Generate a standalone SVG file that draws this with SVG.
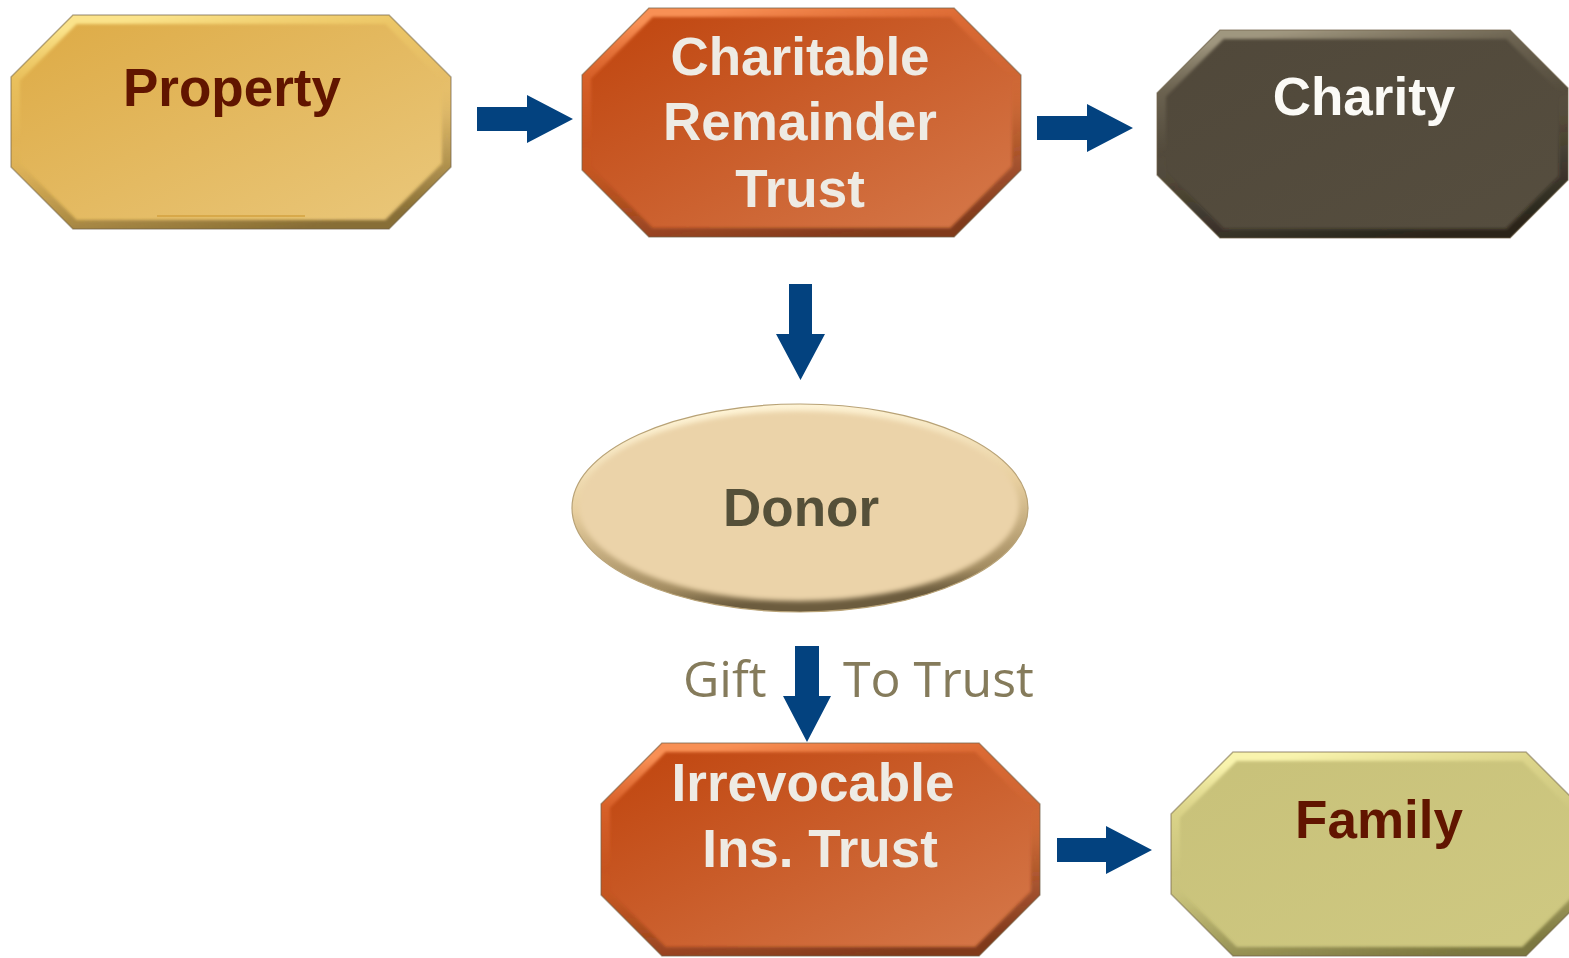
<svg xmlns="http://www.w3.org/2000/svg" width="1569" height="958" viewBox="0 0 1569 958">
  <style>
    .lbl { font-family: "Liberation Sans", Arial, sans-serif; font-weight: bold; font-size: 53px; text-anchor: middle; }
    .dark { fill: #611500; }
    .light { fill: #eeebe4; }
    .white { fill: #fbfaf6; }
    .olive { fill: #555039; }
    .note { font-family: "Open Sans", "Liberation Sans", sans-serif; font-size: 50px; fill: #857b5b; }
    .rim { fill: none; stroke-width: 18; stroke-linejoin: miter; }
    .edge { fill: none; stroke: #6f6248; stroke-opacity: 0.5; stroke-width: 1.5; }
    .arrow { fill: #03427f; }
  </style>
  <defs>
    <!-- face fills -->
    <linearGradient id="gold" x1="0" y1="0" x2="1" y2="1">
      <stop offset="0" stop-color="#ddaa44"/>
      <stop offset="1" stop-color="#eac87c"/>
    </linearGradient>
    <linearGradient id="rust" x1="0" y1="0" x2="1" y2="1">
      <stop offset="0" stop-color="#bf430c"/>
      <stop offset="1" stop-color="#d67a4c"/>
    </linearGradient>
    <linearGradient id="umber" x1="0" y1="0" x2="1" y2="1">
      <stop offset="0" stop-color="#50483a"/>
      <stop offset="1" stop-color="#564e3f"/>
    </linearGradient>
    <linearGradient id="sage" x1="0" y1="0" x2="1" y2="1">
      <stop offset="0" stop-color="#c8c179"/>
      <stop offset="1" stop-color="#cfc982"/>
    </linearGradient>
    <!-- bevel rims: lit from the top-left, shaded to the bottom-right -->
    <linearGradient id="rim-gold" x1="0.35" y1="0" x2="0.65" y2="1">
      <stop offset="0" stop-color="#fce68e" stop-opacity="0.95"/>
      <stop offset="0.18" stop-color="#f6d670" stop-opacity="0.45"/>
      <stop offset="0.45" stop-color="#f6d670" stop-opacity="0"/>
      <stop offset="0.6" stop-color="#7a6128" stop-opacity="0.1"/>
      <stop offset="1" stop-color="#6e5724" stop-opacity="0.8"/>
    </linearGradient>
    <linearGradient id="rim-rust" x1="0.35" y1="0" x2="0.65" y2="1">
      <stop offset="0" stop-color="#fb9358" stop-opacity="0.95"/>
      <stop offset="0.18" stop-color="#f07a40" stop-opacity="0.45"/>
      <stop offset="0.45" stop-color="#f07a40" stop-opacity="0"/>
      <stop offset="0.6" stop-color="#6e2c10" stop-opacity="0.1"/>
      <stop offset="1" stop-color="#6a2a10" stop-opacity="0.8"/>
    </linearGradient>
    <linearGradient id="rim-umber" x1="0.35" y1="0" x2="0.65" y2="1">
      <stop offset="0" stop-color="#a39a82" stop-opacity="0.95"/>
      <stop offset="0.18" stop-color="#8a8069" stop-opacity="0.45"/>
      <stop offset="0.45" stop-color="#8a8069" stop-opacity="0"/>
      <stop offset="0.6" stop-color="#221e16" stop-opacity="0.1"/>
      <stop offset="1" stop-color="#1e1a12" stop-opacity="0.8"/>
    </linearGradient>
    <linearGradient id="rim-sage" x1="0.35" y1="0" x2="0.65" y2="1">
      <stop offset="0" stop-color="#fbf6b0" stop-opacity="0.95"/>
      <stop offset="0.18" stop-color="#efe79a" stop-opacity="0.45"/>
      <stop offset="0.45" stop-color="#efe79a" stop-opacity="0"/>
      <stop offset="0.6" stop-color="#6e6a34" stop-opacity="0.1"/>
      <stop offset="1" stop-color="#66622e" stop-opacity="0.8"/>
    </linearGradient>
    <linearGradient id="donorRim" x1="0" y1="0" x2="0.15" y2="1">
      <stop offset="0" stop-color="#e9d2a4"/>
      <stop offset="0.06" stop-color="#fff5d8"/>
      <stop offset="0.5" stop-color="#e8cf9f"/>
      <stop offset="0.9" stop-color="#a48d62"/>
      <stop offset="1" stop-color="#6c5c3e"/>
    </linearGradient>
    <filter id="soft" x="-5%" y="-5%" width="110%" height="110%">
      <feGaussianBlur stdDeviation="1.6"/>
    </filter>
    <filter id="softer" x="-5%" y="-5%" width="110%" height="110%">
      <feGaussianBlur stdDeviation="2.5"/>
    </filter>
    <clipPath id="clip-property"><polygon points="73,15 389,15 451,77 451,167 389,229 73,229 11,167 11,77"/></clipPath>
    <clipPath id="clip-crt"><polygon points="649,8 954,8 1021,75 1021,170 954,237 649,237 582,170 582,75"/></clipPath>
    <clipPath id="clip-charity"><polygon points="1220,30 1510,30 1568,88 1568,180 1510,238 1220,238 1157,175 1157,93"/></clipPath>
    <clipPath id="clip-ilit"><polygon points="662,743 979,743 1040,804 1040,895 979,956 662,956 601,895 601,804"/></clipPath>
    <clipPath id="clip-family"><polygon points="1233,752 1526,752 1588,814 1588,894 1526,956 1233,956 1171,894 1171,814"/></clipPath>
  </defs>

  <!-- connectors -->
  <g id="connectors">
    <path class="arrow" d="M477,107 H527 V95 L573,119 L527,143 V131 H477 Z"/>
    <path class="arrow" d="M1037,116 H1087 V104 L1133,128 L1087,152 V140 H1037 Z"/>
    <path class="arrow" d="M789,284 H812 V334 H825 L800.5,380 L776,334 H789 Z"/>
    <path class="arrow" d="M795,646 H819 V696 H831 L807,742 L783,696 H795 Z"/>
    <path class="arrow" d="M1057,838 H1106 V826 L1152,850 L1106,874 V862 H1057 Z"/>
    <text class="note" x="683" y="697">Gift</text>
    <text class="note" x="843" y="697">To Trust</text>
  </g>

  <!-- Property -->
  <g id="node-property">
    <polygon points="73,15 389,15 451,77 451,167 389,229 73,229 11,167 11,77" fill="url(#gold)"/>
    <line x1="157" y1="216" x2="305" y2="216" stroke="#d3a03c" stroke-width="2" opacity="0.7"/>
    <polygon class="rim" stroke="url(#rim-gold)" points="73,15 389,15 451,77 451,167 389,229 73,229 11,167 11,77" clip-path="url(#clip-property)" filter="url(#soft)"/>
    <polygon class="edge" points="73,15 389,15 451,77 451,167 389,229 73,229 11,167 11,77"/>
    <text class="lbl dark" x="232" y="106">Property</text>
  </g>

  <!-- Charitable Remainder Trust -->
  <g id="node-crt">
    <polygon points="649,8 954,8 1021,75 1021,170 954,237 649,237 582,170 582,75" fill="url(#rust)"/>
    <polygon class="rim" stroke="url(#rim-rust)" points="649,8 954,8 1021,75 1021,170 954,237 649,237 582,170 582,75" clip-path="url(#clip-crt)" filter="url(#soft)"/>
    <polygon class="edge" points="649,8 954,8 1021,75 1021,170 954,237 649,237 582,170 582,75"/>
    <text class="lbl light" x="800" y="75">Charitable</text>
    <text class="lbl light" x="800" y="140">Remainder</text>
    <text class="lbl light" x="800" y="207">Trust</text>
  </g>

  <!-- Charity -->
  <g id="node-charity">
    <polygon points="1220,30 1510,30 1568,88 1568,180 1510,238 1220,238 1157,175 1157,93" fill="url(#umber)"/>
    <polygon class="rim" stroke="url(#rim-umber)" points="1220,30 1510,30 1568,88 1568,180 1510,238 1220,238 1157,175 1157,93" clip-path="url(#clip-charity)" filter="url(#soft)"/>
    <polygon class="edge" points="1220,30 1510,30 1568,88 1568,180 1510,238 1220,238 1157,175 1157,93"/>
    <text class="lbl white" x="1364" y="115">Charity</text>
  </g>

  <!-- Donor -->
  <g id="node-donor">
    <ellipse cx="800" cy="508" rx="228" ry="104" fill="url(#donorRim)"/>
    <ellipse cx="799" cy="506" rx="220" ry="95" fill="#ebd3a9" filter="url(#softer)"/>
    <ellipse cx="800" cy="508" rx="228" ry="104" fill="none" stroke="#b8a276" stroke-width="1.2"/>
    <text class="lbl olive" x="801" y="526">Donor</text>
  </g>

  <!-- Irrevocable Insurance Trust -->
  <g id="node-ilit">
    <polygon points="662,743 979,743 1040,804 1040,895 979,956 662,956 601,895 601,804" fill="url(#rust)"/>
    <polygon class="rim" stroke="url(#rim-rust)" points="662,743 979,743 1040,804 1040,895 979,956 662,956 601,895 601,804" clip-path="url(#clip-ilit)" filter="url(#soft)"/>
    <polygon class="edge" points="662,743 979,743 1040,804 1040,895 979,956 662,956 601,895 601,804"/>
    <text class="lbl light" x="813" y="801">Irrevocable</text>
    <text class="lbl light" x="820" y="867">Ins. Trust</text>
  </g>

  <!-- Family -->
  <g id="node-family">
    <polygon points="1233,752 1526,752 1588,814 1588,894 1526,956 1233,956 1171,894 1171,814" fill="url(#sage)"/>
    <polygon class="rim" stroke="url(#rim-sage)" points="1233,752 1526,752 1588,814 1588,894 1526,956 1233,956 1171,894 1171,814" clip-path="url(#clip-family)" filter="url(#soft)"/>
    <polygon class="edge" points="1233,752 1526,752 1588,814 1588,894 1526,956 1233,956 1171,894 1171,814"/>
    <text class="lbl dark" x="1379" y="838">Family</text>
  </g>
</svg>
